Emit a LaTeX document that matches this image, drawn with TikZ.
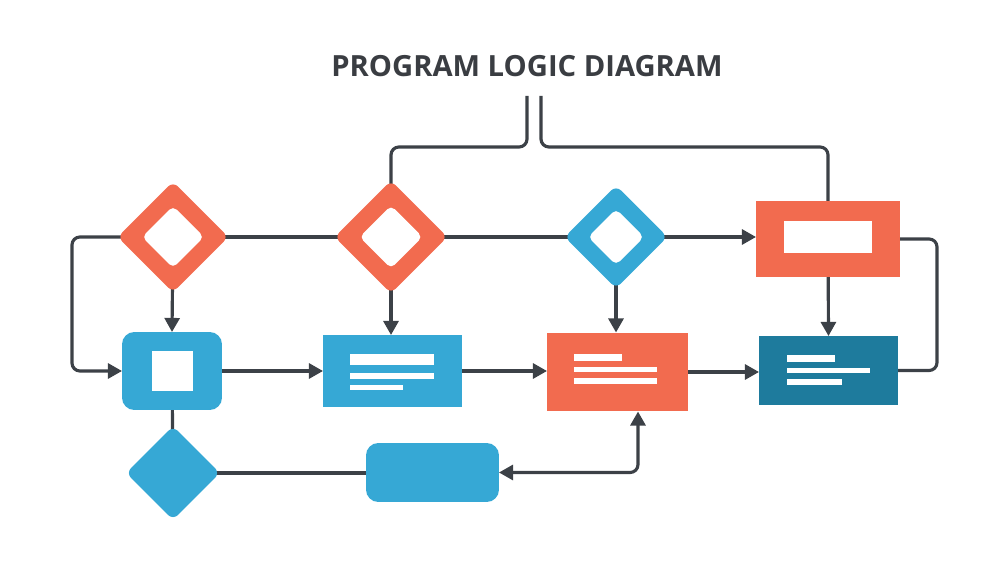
\documentclass[tikz,border=0pt]{standalone}
\usepackage{fontspec}
\newfontfamily\titlefont{Open Sans}
\usetikzlibrary{shapes.geometric,arrows.meta,backgrounds}
\definecolor{cOrange}{HTML}{F26B4F}
\definecolor{cBlue}{HTML}{36A8D5}
\definecolor{cTeal}{HTML}{1E7B9D}
\definecolor{cLine}{HTML}{3C4147}
\definecolor{cTitle}{HTML}{3A3D42}
\tikzset{
  conn/.style={draw=cLine, line width=1.8pt, rounded corners=4.5pt},
  arr/.style={conn, -{Triangle[length=8pt,width=8.5pt]}},
  darr/.style={conn, {Triangle[length=8pt,width=8.5pt]}-{Triangle[length=8pt,width=8.5pt]}},
  dia/.style={shape=diamond, aspect=1, inner sep=0pt, outer sep=0pt, rounded corners=4pt, draw=none},
  boxr/.style={shape=rectangle, inner sep=0pt, outer sep=0pt, draw=none},
  bar/.style={fill=white},
}
\begin{document}
\begin{tikzpicture}[x=0.02cm, y=-0.02cm]
\useasboundingbox (0,0) rectangle (1000,563);
% title
\node[text=cTitle, font=\titlefont\bfseries\fontsize{16.6}{20}\selectfont] (t) at (527,66) {PROGRAM LOGIC DIAGRAM};
% row 1
\node[dia, fill=cOrange, minimum width=2.22cm, minimum height=2.22cm] (d1) at (173,237) {};
\node[dia, fill=white, minimum width=1.24cm, minimum height=1.24cm, rounded corners=3pt] (d1i) at (173,237) {};
\node[dia, fill=cOrange, minimum width=2.26cm, minimum height=2.26cm] (d2) at (391,237) {};
\node[dia, fill=white, minimum width=1.26cm, minimum height=1.26cm, rounded corners=3pt] (d2i) at (391,237) {};
\node[dia, fill=cBlue, minimum width=2.06cm, minimum height=2.06cm] (d3) at (616,237) {};
\node[dia, fill=white, minimum width=1.12cm, minimum height=1.12cm, rounded corners=3pt] (d3i) at (616,237) {};
\node[boxr, fill=cOrange, minimum width=2.88cm, minimum height=1.52cm] (r1) at (828,239) {};
\node[boxr, fill=white, minimum width=1.76cm, minimum height=0.64cm] (r1i) at (828,237) {};
% row 2
\node[boxr, fill=cBlue, minimum width=2.0cm, minimum height=1.56cm, rounded corners=7pt] (b1) at (172,371) {};
\node[boxr, fill=white, minimum width=0.82cm, minimum height=0.8cm] (b1i) at (172.5,371) {};
\node[boxr, fill=cBlue, minimum width=2.78cm, minimum height=1.44cm] (b2) at (392.5,371) {};
\node[boxr, fill=cOrange, minimum width=2.82cm, minimum height=1.58cm] (b3) at (617.5,372) {};
\node[boxr, fill=cTeal, minimum width=2.78cm, minimum height=1.38cm] (b4) at (828.5,370.5) {};
% bars
\fill[bar] (350,354) rectangle (434,365);
\fill[bar] (350,373) rectangle (434,379);
\fill[bar] (350,385) rectangle (403,390);
\fill[bar] (574,354) rectangle (622,361);
\fill[bar] (574,367) rectangle (657,372);
\fill[bar] (574,378) rectangle (657,384);
\fill[bar] (787,355) rectangle (835,362);
\fill[bar] (787,368) rectangle (870,373);
\fill[bar] (787,379) rectangle (842,385);
% row 3
\node[dia, fill=cBlue, minimum width=1.88cm, minimum height=1.88cm, rounded corners=4pt] (d4) at (173,473) {};
\node[boxr, fill=cBlue, minimum width=2.66cm, minimum height=1.18cm, rounded corners=7pt] (b5) at (432.5,472.5) {};
% helper coordinates
\coordinate (tl) at (527,96);
\coordinate (tr) at (541,96);
\coordinate (hy) at (0,147);
\coordinate (lx) at (72,0);
\coordinate (rx) at (937,0);
\coordinate (cx) at (638,0);
\begin{scope}[on background layer]
\draw[conn] (tl) -- (tl |- hy) -- (d2.center |- hy) -- (d2.center);
\draw[conn] (tr) -- (tr |- hy) -- (r1.center |- hy) -- (r1.center);
\draw[conn] (d1.center) -- (d2.center);
\draw[conn] (d2.center) -- (d3.center);
\draw[arr] (d3.center) -- (d3.center -| r1.west);
\draw[arr] (d1.center) -- (d1.center -| lx) -- (b1.west -| lx) -- (b1.west);
\draw[conn] (r1.center) -- (r1.center -| rx) -- (b4.center -| rx) -- (b4.center);
\draw[arr] (d1.center) -- (b1.north);
\draw[arr] (d2.center) -- (d2.center |- b2.north);
\draw[arr] (d3.center) -- (d3.center |- b3.north);
\draw[arr] (r1.center) -- (b4.north);
\draw[arr] (b1.center) -- (b1.center -| b2.west);
\draw[arr] (b2.center) -- (b2.center -| b3.west);
\draw[arr] (b3.center) -- (b3.center -| b4.west);
\draw[conn] (b1.center) -- (d4.center);
\draw[conn] (d4.center) -- (d4.center -| b5.center);
\draw[darr] (b5.east) -- (b5.east -| cx) -- (cx |- b3.south);
\end{scope}
\end{tikzpicture}
\end{document}
